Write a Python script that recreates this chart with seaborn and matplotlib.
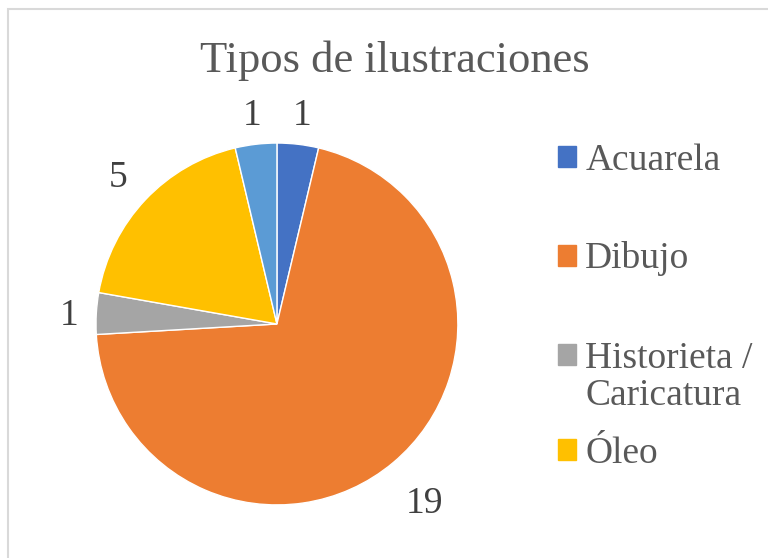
import matplotlib
matplotlib.use("Agg")
import numpy as np
import matplotlib.pyplot as plt
import matplotlib.patches as mpatches
import matplotlib.transforms as mtransforms
import seaborn as sns

# data
tipos = ["Acuarela", "Dibujo", "Historieta /", "Óleo", "Otro"]
tipo_extra = "Caricatura"   # second line of the third legend label
cantidades = [1, 19, 1, 5, 1]
colores = ["#4472C4", "#ED7D31", "#A5A5A5", "#FFC000", "#5B9BD5"]
dist_etq = [1.176, 1.27, 1.151, 1.205, 1.176]   # label distance per slice

sns.set_theme(style="white")
plt.rcParams["font.family"] = ["Liberation Serif", "DejaVu Serif"]

fig = plt.figure(figsize=(7.68, 5.58), dpi=100)
ax = fig.add_axes([0.0661, 0.0139, 0.589, 0.811])

fs = 27
total = sum(cantidades)
wedges, texts, autotexts = ax.pie(
    cantidades, colors=colores, startangle=90, counterclock=False,
    autopct=lambda p: f"{round(p * total / 100)}", pctdistance=1.2,
    wedgeprops=dict(edgecolor="white", linewidth=1),
    textprops=dict(fontsize=fs, color="#404040"),
)
ax.set_xlim(-1.25, 1.25)
ax.set_ylim(-1.25, 1.25)
ax.set_aspect("equal")

# move data labels outside, baseline-shifted so digits are centered
trans = mtransforms.offset_copy(ax.transData, fig=fig, y=-0.338 * fs, units="points")
for w, t, d in zip(wedges, autotexts, dist_etq):
    ang = np.deg2rad((w.theta1 + w.theta2) / 2)
    t.set_position((d * np.cos(ang), d * np.sin(ang)))
    t.set_transform(trans)
    t.set_va("baseline")
    t.set_ha("center")

fig.text(0.5135, 1 - 72 / 558, "Tipos de ilustraciones", ha="center", va="baseline",
         fontsize=32, color="#595959")

# legend: one entry per box, only first four shown (as in reference)
pos_y = [160.5, 259, 358.5, 453.5]
legs = []
for w, lab, y in zip(wedges[:4], tipos[:4], pos_y):
    leg = fig.legend([mpatches.Patch(color=w.get_facecolor())], [lab],
                     loc="center left", bbox_to_anchor=(557.5 / 768, 1 - y / 558),
                     frameon=False, borderpad=0, borderaxespad=0,
                     handlelength=0.49, handleheight=0.49, handletextpad=0.25,
                     fontsize=fs, labelcolor="#595959")
    legs.append(leg)

fig.canvas.draw()
x0 = legs[2].get_texts()[0].get_window_extent().x0 / fig.bbox.width
fig.text(x0, 1 - 405 / 558, tipo_extra, ha="left", va="baseline",
         fontsize=fs, color="#595959")

# chart border
fig.add_artist(mpatches.Rectangle((8 / 768, -0.1), 1.2, 1 - 9 / 558 + 0.1,
                                  transform=fig.transFigure, fill=False,
                                  edgecolor="#D9D9D9", linewidth=1.5))

fig.savefig("out.png", dpi=100)
